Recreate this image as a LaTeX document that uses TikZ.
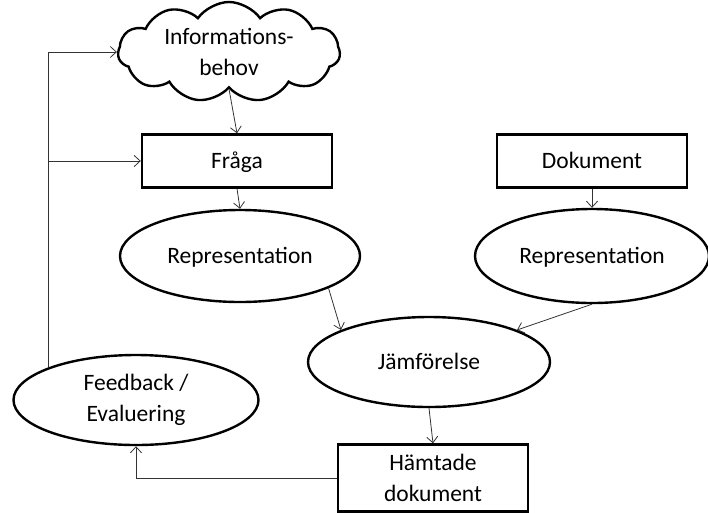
\documentclass[tikz,border=0pt]{standalone}
\usepackage{fontspec}
\setmainfont{Carlito}
\usepackage{tikz}
\usetikzlibrary{shapes.geometric, shapes.symbols, arrows.meta}
\tikzset{
every picture/.style={line width=0.8pt, >={Straight Barb[length=6pt,width=11pt]}},
%%%%%%%%%% Node styles
cloudnode/.style={cloud, cloud puffs=11, cloud puff arc=110, aspect=2.4,
                  draw, line width=2.4pt, inner sep=0pt, align=center,
                  minimum width=222pt, minimum height=98pt},
boxnode/.style={rectangle, draw, line width=2.4pt, align=center,
                minimum width=190pt, minimum height=53pt},
ellipsenode/.style={ellipse, draw, line width=2.4pt, align=center,
                    inner sep=0pt},
%% keeps the capitals in the middle of the shape
midtext/.style={text height=16pt, text depth=2pt},
%%%% connectors
flow/.style={->, line width=0.8pt, draw=black!80},
}
\begin{document}
\begin{tikzpicture}[x=1pt, y=-1pt, font=\fontsize{23.5}{31}\selectfont]
\useasboundingbox (0,0) rectangle (708,512);
%% the query side
\node[cloudnode] (need) at (229,52) {Informations-\\behov};
\node[boxnode, midtext] (fraga) at (237,161) {Fråga};
\node[ellipsenode, midtext, minimum width=240pt, minimum height=92pt] (rep1) at (240,256) {Representation};
%% the document side
\node[boxnode, midtext] (dok) at (592,161) {Dokument};
\node[ellipsenode, midtext, minimum width=234pt, minimum height=94pt] (rep2) at (592,256) {Representation};
%% matching and result
\node[ellipsenode, midtext, minimum width=242pt, minimum height=90pt] (jam) at (429,362) {Jämförelse};
\node[boxnode, minimum height=67pt] (hd) at (433,478) {Hämtade\\dokument};
\node[ellipsenode, minimum width=245pt, minimum height=90pt] (fb) at (136,400) {Feedback /\\Evaluering};
%% arrows down
\draw[flow] (need.south) -- (fraga.north);
\draw[flow] (fraga.south) -- (rep1.north);
\draw[flow] (dok.south) -- (rep2.north);
\draw[flow] (rep1.-20) -- (jam.160);
\draw[flow] (rep2.south) -- (jam.20);
\draw[flow] (jam.south) -- (hd.north);
%% feedback loop
\draw[flow] (hd.west) -| (fb.south);
\coordinate (branch) at (fb.north west |- fraga.west);
\draw[flow] (fb.north west) |- (need.west);
\draw[flow] (branch) -- (fraga.west);
\end{tikzpicture}
\end{document}
